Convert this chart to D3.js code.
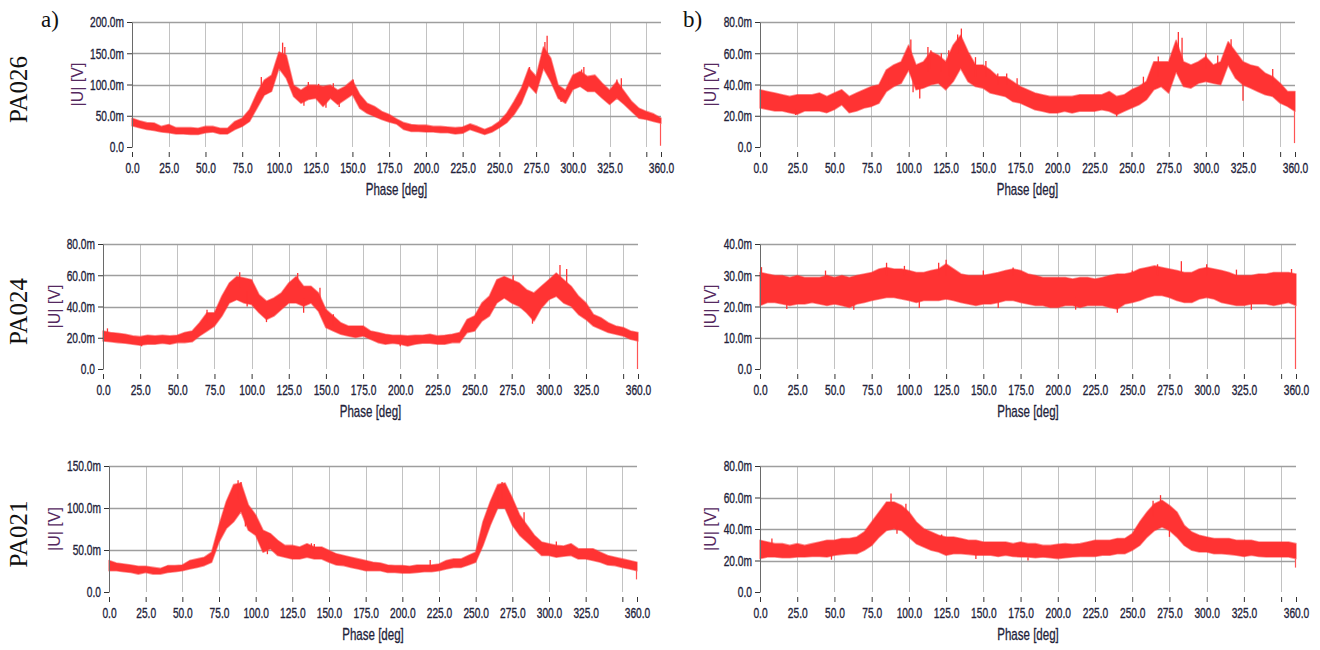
<!DOCTYPE html>
<html>
<head>
<meta charset="utf-8">
<script src="https://cdn.jsdelivr.net/npm/d3@7"></script>
<style>
  body { margin: 0; background: #fff; }
  svg { display: block; }
</style>
</head>
<body>
<svg id="chart" width="1320" height="650"></svg>
<script>
// phase samples (deg), envelope read every 5 deg
var phase = d3.range(0, 361, 5);

var xTicks = [0, 25, 50, 75, 100, 125, 150, 175, 200, 225, 250, 275, 300, 325, 350, 360];
var xTickLabels = ["0.0", "25.0", "50.0", "75.0", "100.0", "125.0", "150.0", "175.0", "200.0",
                   "225.0", "250.0", "275.0", "300.0", "325.0", "", "360.0"];

var yTicks200 = [0, 50, 100, 150, 200];
var yTicks150 = [0, 50, 100, 150];
var yTicks80 = [0, 20, 40, 60, 80];
var yTicks40 = [0, 10, 20, 30, 40];

var rowLabels = ["PA026", "PA024", "PA021"];

// values in mV: lower / upper edge of the noise band
var a1Lo = [34,31,28,26.5,24,23,21,21,20,20, 23,24,21,21,28,33,41,62,83,89, 126,110,81,70,76,78,65,78,68,76,
            84,62,54,49,44,40,37,28,25,25, 24,24,23,23,21,22,28,24,20,24, 31,39,52,70,99,86,126,105,78,70,
            92,97,89,89,78,68,78,68,57,46, 44,41,38];
var a1Hi = [46,42,39,38.5,33,36,31,31,31,30, 33,33,30,30,41,46,60,86,107,115, 152,147,99,91,99,99,97,99,91,97,
            107,84,70,65,57,52,45,39,36,35, 35,33,33,32,31,32,37,33,28,33, 41,54,73,94,126,113,160,142,99,91,
            115,121,113,115,102,91,105,89,73,62, 57,53,46];
// [phase, from, to] single noise spikes
var a1Spikes = [[102.5,140,167],[104,130,160],[282.5,150,178],[281,140,168],[150.5,95,108],[306,110,124],
                [330,95,108],[270.5,110,128],[88,90,112],[120,90,104],[127,85,101],[137,85,102],[132,75,63],
                [141,75,64],[307.5,105,128],[333,90,110],[117,78,66],[292,85,72]];

var b1Lo = [25,24,23,23,22,21,23,23,23,22, 24,27,22,23,25,26,28,35.5,38.7,40.8, 49.3,36.6,37.7,39.8,40.8,36.6,41.9,50.4,41.9,38.7,
            37.7,34.5,33.4,32.4,29.2,28.1,26,23.9,22.9,21.8, 21.8,22.9,21.8,22.9,22.9,22.9,23.9,22.9,20.7,22.9,
            25,27,30.3,36.6,38.7,34.5,48.2,38.7,37.7,40.8, 41.9,40.8,39.8,52.5,44,39.8,37.7,35.5,33.4,32.4, 28.1,26,22.9];
var b1Hi = [36.6,35.5,34.5,33.4,32.4,33.4,33.4,33.4,34.5,32.4, 34.5,36.6,32.4,34.5,36.6,38.7,39.8,49.3,52.5,54.6,
            65.2,52.5,54.6,61,58.8,54.6,65.2,71.5,61,52.5, 52.5,49.3,45,45,41.9,38.7,36.6,34.5,33.4,32.4,
            32.4,32.4,32.4,33.4,33.4,33.4,33.4,35.5,32.4,33.4, 36.6,38.7,41.9,54.6,54.6,54.6,68.3,54.6,52.5,54.6,
            57.8,52.5,54.6,67.3,61,54.6,52.5,51.4,47.2,45, 40.8,35.5,35.5];
var b1Spikes = [[101.5,58,68.8],[135.5,62,75.8],[133,60,72],[281.5,62,73.6],[284,55,70],[317,60,69],[115,50,62],
                [107.5,40,31],[325,42,29.6],[127,45,62],[24,24,20.5],[240,23,19.5],[113,48,64],[122,48,60],
                [145,45,57.5],[152,45,55],[160,40,47],[166,40,47],[173,35,44],[258,35,45],[268,45,58],
                [300,50,60],[308,50,58.5],[345,40,50],[103,45,35],[87,40,50]];

var a2Lo = [18,17.4,16.9,16.5,15.9,15.2,15.9,15.9,16.5,15.9, 16.9,16.9,17.4,21.2,24.3,27.5,33.9,42.3,44.4,42.3,
            41.3,36,31.7,33.9,38.1,42.3,42.3,40.2,42.3,37, 26.5,24.3,22.2,21.2,20.1,21.2,19,16.9,15.9,16.5,
            15.9,14.8,15.9,16.5,16.5,15.9,15.9,16.9,16.9,23.3, 24.3,30.7,33.9,42.3,45.5,42.3,40.2,36,30.7,39.1,
            44.4,46.6,42.3,40.2,34.9,31.7,27.5,25.4,23.3,22.2, 21.2,19,18];
var a2Hi = [24.3,23.3,22.9,22.2,21.2,20.7,21.6,21.2,21.6,21.2, 21.6,23.3,24.3,29.6,36,36,46.6,55,59.2,58.2,
            57.1,47.6,43.4,45.5,48.7,55,59.2,52.9,52.9,48.7, 38.1,33.9,29.6,27.5,27.5,27.5,24.3,23.3,22.2,21.6,
            21.6,21.2,21.6,21.6,22.2,21.2,21.6,22.2,23.3,31.7, 33.9,42.3,46.6,57.1,59.2,57.1,55,50.8,48.7,52.9,
            57.1,61.4,57.1,52.9,46.6,42.3,34.9,32.8,29.6,27.5, 26.5,24.3,23.3];
var a2Spikes = [[70,30,38],[92,52,62],[131,52,61.5],[307.5,57,66.5],[289,35,29],[110,35,30],[135,45,36],[26,17,14.5],
                [97,50,40],[146,42,52],[155,28,35],[276,50,60],[312,55,64],[200,18,14.5],[3,21,26]];

var a3Lo = [25.3,25.3,24.1,23.3,21.3,23.3,21.3,21.3,23.3,24.1, 25.3,27.3,29.3,31.4,35.4,59.5,75.6,83.6,95.7,73.6,
            67.5,47.4,51.5,43.4,41.4,39.4,39.4,41.4,39.4,39.4, 35.4,32.2,31.4,29.3,27.3,25.3,25.3,25.3,23.3,23.3,
            22.5,22.5,23.3,24.1,24.1,25.3,27.3,29.3,29.3,32.2, 35.4,55.5,79.6,99.7,99.7,79.6,67.5,59.5,51.5,43.4,
            43.4,41.4,42.6,43.4,39.4,39.4,37.4,35.4,32.2,31.4, 29.3,27.3,25.3];
var a3Hi = [37.4,34.6,33.4,32.2,30.6,30.6,29.3,28.1,31.4,31.4, 32.2,37.4,39.4,41.4,47.4,79.6,107.7,127.8,129.8,103.7,
            91.7,73.6,69.5,61.5,55.5,55.5,53.5,57.5,53.5,53.5, 49.4,45.4,43.4,41.4,39.4,37.4,35.4,34.6,32.2,31.4,
            31.4,30.6,32.2,32.2,32.2,33.4,37.4,39.4,39.4,43.4, 47.4,83.6,107.7,127.8,129.8,111.8,91.7,79.6,67.5,59.5,
            57.5,55.5,54.7,57.5,51.5,51.5,51.5,47.4,43.4,41.4, 39.4,37.4,35.4];
var a3Spikes = [[88,110,133],[90,110,131],[268,110,131],[265,100,125],[93,90,78],[108,60,45],[140,45,57],
                [219,28,38],[305,45,60],[283,70,95],[138,45,58]];

var b2Lo = [20.3,21.3,21.3,20.8,20.3,20.8,20.8,21.3,20.8,20.3, 20.8,20.3,19.7,20.8,21.3,21.9,22.4,22.9,22.9,22.4,
            21.9,21.3,21.9,21.9,21.9,22.4,21.9,21.3,20.8,20.3, 20.8,20.8,21.3,21.9,21.9,21.3,20.8,20.3,20.3,19.7,
            19.7,20.3,20.3,19.7,20.3,20.3,20.3,19.7,19.2,20.8, 21.3,21.9,22.9,23.5,23.5,22.9,21.9,21.3,21.3,22.4,
            22.9,22.4,21.3,20.8,20.3,20.3,20.8,20.8,20.8,20.3, 20.8,21.3,20.3];
var b2Hi = [30.9,30.4,29.9,29.9,29.3,29.9,29.3,29.3,29.3,29.9, 29.3,29.9,29.3,29.9,30.4,30.9,32,32.5,32,32,
            31.5,30.9,30.9,31.5,32,33.6,32,30.4,29.9,29.9, 29.9,30.4,30.9,31.5,32,31.5,30.4,29.9,29.3,29.3,
            29.3,29.3,28.8,29.3,29.3,28.8,29.3,29.9,30.4,30.4, 30.9,32,32.5,33,32.5,32,31.5,30.9,30.9,32,
            32.5,32,31.5,30.9,29.9,29.9,29.9,30.4,30.4,30.9, 30.9,30.9,30.4];
var b2Spikes = [[125,30,35],[85,30,34],[267,30,33.5],[283,30,34.5],[300,30,33.5],[240,21,18],[63,21,19],
                [1,29,32.6],[120,30,34],[170,30,32.5],[212,23,19],[330,22,19],[44,29,31.5],[357,29,32],
                [97,30,33],[150,29,31.5],[250,29,31.5],[320,29,31.8],[18,22,19.2],[107,22,19.5],[160,22,19.5]];

var b3Lo = [21.2,22.2,22.2,21.8,21.8,22.2,22.2,22.6,22.6,22.2, 23.3,23.9,24.3,24.3,26.5,29.6,34.9,39.1,40.2,39.1,
            34.9,30.7,28.6,26.5,25.4,23.3,24.3,24.3,23.9,23.3, 23.3,23.3,22.6,23.3,22.6,22.2,22.2,21.8,22.2,21.8,
            21.2,21.8,22.2,22.6,22.6,22.6,23.3,23.3,24.3,24.3, 26.5,29.6,34.9,39.1,41.3,39.1,34.9,29.6,26.5,25.4,
            25.4,24.3,24.3,23.9,23.3,22.6,23.3,22.6,22.2,22.2, 22.2,22.2,21.2];
var b3Hi = [32.8,31.7,30.7,30.7,29.6,30.7,29.6,30.7,31.7,32.8, 32.8,33.9,33.9,34.9,38.1,44.4,50.8,57.1,57.1,55,
            50.8,44.4,40.2,38.1,36,34.9,34.9,33.9,32.8,32.8, 31.7,31.7,31.7,31.7,30.7,31.7,30.7,30.7,29.6,29.6,
            30.3,30.7,30.3,30.7,31.7,32.8,32.8,32.8,33.9,33.9, 37,44.4,50.8,56.1,58.2,55,50.8,42.3,38.1,36,
            34.9,33.9,33.9,33.9,32.8,32.8,32.8,31.7,31.7,31.7, 31.7,31.7,30.7];
var b3Spikes = [[88,52,62.5],[269,52,61.5],[92,42,37],[8,30,34],[180,22,20],[48,24,20.5],[98,50,56],
                [264,48,58],[275,40,35],[122,33,36.5],[300,32,35],[145,24,21]];

// layout of each plot (plot area in px)
var panels = [
  { lo: a1Lo, hi: a1Hi, spikes: a1Spikes, drop: 2,   ymax: 200, yticks: yTicks200, x0: 132, x1: 661,  y0: 22,  y1: 147, titleX: 77 },
  { lo: b1Lo, hi: b1Hi, spikes: b1Spikes, drop: 2.5, ymax: 80,  yticks: yTicks80,  x0: 760, x1: 1295, y0: 22,  y1: 147, titleX: 710 },
  { lo: a2Lo, hi: a2Hi, spikes: a2Spikes, drop: 0,   ymax: 80,  yticks: yTicks80,  x0: 103, x1: 638,  y0: 244, y1: 369, titleX: 54 },
  { lo: b2Lo, hi: b2Hi, spikes: b2Spikes, drop: 0,   ymax: 40,  yticks: yTicks40,  x0: 760, x1: 1296, y0: 244, y1: 369, titleX: 710 },
  { lo: a3Lo, hi: a3Hi, spikes: a3Spikes, drop: 15,  ymax: 150, yticks: yTicks150, x0: 109, x1: 637,  y0: 466, y1: 592, titleX: 54 },
  { lo: b3Lo, hi: b3Hi, spikes: b3Spikes, drop: 15.5,ymax: 80,  yticks: yTicks80,  x0: 760, x1: 1296, y0: 466, y1: 592, titleX: 710 }
];

var red = "#ff3333";
var sx = 0.68;   // narrow LabVIEW-like scale font
var labelFont = "Liberation Sans, Arial, sans-serif";
var serif = "Liberation Serif, Times New Roman, serif";
var labelColor = "#22223a";

var svg = d3.select("#chart");

function yFormat(d) {
  return d === 0 ? "0.0" : d.toFixed(1) + "m";
}

panels.forEach(function(p) {
  var x = d3.scaleLinear().domain([0, 360]).range([p.x0, p.x1]);
  var y = d3.scaleLinear().domain([0, p.ymax]).range([p.y1, p.y0]);
  var g = svg.append("g");

  // grid
  g.selectAll(".vgrid")
    .data(xTicks.filter(function(d) { return d > 0 && d < 360; }))
    .enter().append("line")
      .attr("x1", function(d) { return Math.round(x(d)) + 0.5; })
      .attr("x2", function(d) { return Math.round(x(d)) + 0.5; })
      .attr("y1", p.y0)
      .attr("y2", p.y1)
      .attr("stroke", "#c2c2c2");

  g.selectAll(".hgrid")
    .data(p.yticks.filter(function(d) { return d > 0; }))
    .enter().append("line")
      .attr("x1", p.x0)
      .attr("x2", p.x1)
      .attr("y1", function(d) { return Math.round(y(d)) + 0.5; })
      .attr("y2", function(d) { return Math.round(y(d)) + 0.5; })
      .attr("stroke", "#9e9e9e")
      .attr("stroke-width", 1.4);

  // noise band
  var band = d3.area()
      .x(function(d, i) { return x(phase[i]); })
      .y0(function(d) { return y(d[0]); })
      .y1(function(d) { return y(d[1]); });

  g.append("path")
      .datum(d3.zip(p.lo, p.hi))
      .attr("d", band)
      .attr("fill", red)
      .attr("stroke", red)
      .attr("stroke-opacity", 0.55)
      .attr("stroke-width", 1.6)
      .attr("stroke-linejoin", "round");

  g.selectAll(".spike")
    .data(p.spikes)
    .enter().append("line")
      .attr("x1", function(d) { return x(d[0]); })
      .attr("x2", function(d) { return x(d[0]); })
      .attr("y1", function(d) { return y(d[1]); })
      .attr("y2", function(d) { return y(d[2]); })
      .attr("stroke", red)
      .attr("stroke-width", 1.3);

  // last sample drops down
  g.append("line")
      .attr("x1", x(360) - 0.5)
      .attr("x2", x(360) - 0.5)
      .attr("y1", y(p.lo[p.lo.length - 1]))
      .attr("y2", y(p.drop))
      .attr("stroke", "#ff5555")
      .attr("stroke-width", 1.2);

  // y axis
  var ya = g.append("g")
      .attr("transform", "translate(" + p.x0 + ",0)")
      .call(d3.axisLeft(y).tickValues(p.yticks).tickSize(5).tickSizeOuter(0).tickFormat(yFormat))
      .attr("font-family", labelFont)
      .attr("font-size", 15);
  ya.select(".domain").attr("stroke", "#6a6a6a");
  ya.selectAll(".tick line").attr("stroke", "#333");
  ya.selectAll(".tick text")
      .attr("fill", labelColor)
      .attr("stroke", labelColor)
      .attr("stroke-width", 0.35)
      .attr("x", -8 / sx)
      .attr("transform", "scale(" + sx + ",1)");

  // x axis (drawn a little below the plot, LabVIEW style)
  var xa = g.append("g")
      .attr("transform", "translate(0," + (p.y1 + 5) + ")")
      .call(d3.axisBottom(x).tickValues(xTicks).tickSize(5).tickPadding(5)
        .tickFormat(function(d, i) { return xTickLabels[i]; }))
      .attr("font-family", labelFont)
      .attr("font-size", 15);
  xa.select(".domain").remove();
  xa.selectAll(".tick line").attr("stroke", "#333");
  xa.selectAll(".tick text")
      .attr("fill", labelColor)
      .attr("stroke", labelColor)
      .attr("stroke-width", 0.35)
      .attr("transform", "scale(" + sx + ",1)");

  g.append("text")
      .attr("transform", "translate(" + (p.x0 + p.x1) / 2 + "," + (p.y1 + 48) + ") scale(0.72,1)")
      .attr("text-anchor", "middle")
      .attr("font-family", labelFont)
      .attr("font-size", 16)
      .attr("fill", labelColor)
      .attr("stroke", labelColor)
      .attr("stroke-width", 0.3)
      .text("Phase [deg]");

  g.append("text")
      .attr("transform", "translate(" + p.titleX + "," + (p.y0 + p.y1) / 2 + ") rotate(-90)")
      .attr("text-anchor", "middle")
      .attr("dy", "0.35em")
      .attr("font-family", labelFont)
      .attr("font-size", 16)
      .attr("fill", "#55295f")
      .text("|U| [V]");
});

// row names
rowLabels.forEach(function(name, i) {
  var p = panels[i * 2];
  svg.append("text")
      .attr("transform", "translate(18," + ((p.y0 + p.y1) / 2 + 5) + ") rotate(-90)")
      .attr("text-anchor", "middle")
      .attr("dy", "0.35em")
      .attr("font-family", serif)
      .attr("font-size", 25)
      .attr("fill", "#111")
      .text(name);
});

svg.append("text").attr("x", 41).attr("y", 27)
    .attr("font-family", serif).attr("font-size", 23).attr("fill", "#111").text("a)");
svg.append("text").attr("x", 683).attr("y", 27)
    .attr("font-family", serif).attr("font-size", 23).attr("fill", "#111").text("b)");
</script>
</body>
</html>
